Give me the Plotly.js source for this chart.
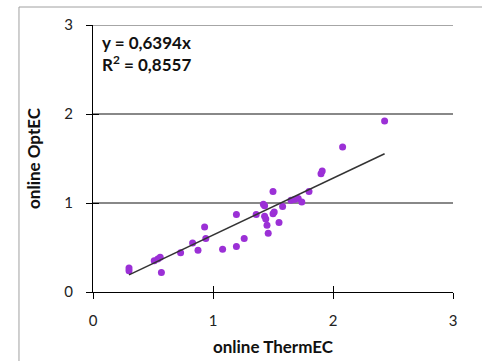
<!DOCTYPE html>
<html>
<head>
<meta charset="utf-8">
<script src="https://cdn.plot.ly/plotly-3.0.1.min.js"></script>
<style>html,body{margin:0;padding:0;background:#fff;}#chart{width:482px;height:361px;}</style>
</head>
<body>
<div id="chart"></div>
<script>
const xVals = [0.30, 0.30, 0.51, 0.54, 0.56, 0.57, 0.73, 0.83, 0.875, 0.93, 0.94, 1.08, 1.195, 1.195, 1.26, 1.36, 1.42, 1.43, 1.43, 1.44, 1.45, 1.46, 1.50, 1.50, 1.51, 1.55, 1.58, 1.65, 1.68, 1.71, 1.74, 1.80, 1.90, 1.91, 2.08, 2.43];
const yVals = [0.27, 0.24, 0.35, 0.37, 0.39, 0.22, 0.44, 0.55, 0.47, 0.73, 0.60, 0.48, 0.87, 0.51, 0.60, 0.87, 0.985, 0.97, 0.85, 0.82, 0.75, 0.66, 1.13, 0.88, 0.90, 0.78, 0.96, 1.03, 1.04, 1.05, 1.01, 1.13, 1.33, 1.36, 1.63, 1.92];
const slope = 0.6394;
const rSquared = "0,8557";
const tickVals = [0, 1, 2, 3];
const tickText = ["0", "1", "2", "3"];

const xMin = Math.min(...xVals), xMax = Math.max(...xVals);
const font = "Lato, 'Open Sans', sans-serif";
const yTop = tickVals[tickVals.length - 1];

const data = [
  {x: xVals, y: yVals, type: 'scatter', mode: 'markers',
   marker: {color: '#9b30d6', size: 7}, xaxis: 'x', yaxis: 'y', hoverinfo: 'skip'},
  {x: [xMin, xMax], y: [slope * xMin, slope * xMax], type: 'scatter', mode: 'lines',
   line: {color: '#333333', width: 1.5}, xaxis: 'x2', yaxis: 'y2', hoverinfo: 'skip'}
];

const axCommon = {range: [0, 3], tickvals: tickVals, ticktext: tickText, zeroline: false,
  showline: true, linecolor: '#000', linewidth: 1, tickcolor: '#000', ticklen: 6, tickwidth: 1,
  fixedrange: true};

const layout = {
  width: 482, height: 361,
  margin: {l: 93, r: 29, t: 25, b: 69},
  paper_bgcolor: '#fff', plot_bgcolor: '#fff',
  showlegend: false,
  font: {family: font, size: 15, color: '#222'},
  xaxis: Object.assign({}, axCommon, {ticks: 'outside', showgrid: false,
    ticklabelstandoff: 9,
    title: {text: '<b>online ThermEC</b>', font: {size: 17, family: font, color: '#111'}, standoff: 13}}),
  yaxis: Object.assign({}, axCommon, {ticks: 'outside', showgrid: true, gridcolor: '#888888', gridwidth: 1.5,
    ticklabelstandoff: 10,
    title: {text: '<b>online OptEC</b>', font: {size: 17, family: font, color: '#111'}, standoff: 19}}),
  xaxis2: Object.assign({}, axCommon, {overlaying: 'x', anchor: 'y2', ticks: 'inside', showgrid: false, showticklabels: false}),
  yaxis2: Object.assign({}, axCommon, {overlaying: 'y', anchor: 'x2', ticks: 'inside', showgrid: false, showticklabels: false}),
  annotations: [{
    xref: 'paper', yref: 'paper', x: 0.02, y: 0.98, xanchor: 'left', yanchor: 'top',
    align: 'left', showarrow: false,
    text: '<b>y = ' + String(slope).replace('.', ',') + 'x</b><br><b>R<sup>2</sup> = ' + rSquared + '</b>',
    font: {size: 17, family: font, color: '#111'}
  }],
  shapes: [
    {type: 'rect', xref: 'paper', yref: 'paper', x0: -0.2056, x1: 1.3, y0: -0.4, y1: 1.0674,
     line: {color: '#a0a0a0', width: 1}, fillcolor: 'rgba(0,0,0,0)', layer: 'below'},
    {type: 'line', xref: 'paper', yref: 'y', x0: 0, x1: 1, y0: yTop, y1: yTop,
     line: {color: '#888888', width: 1.5}, layer: 'below'}
  ]
};

Plotly.newPlot('chart', data, layout, {staticPlot: true, displayModeBar: false});
</script>
</body>
</html>
